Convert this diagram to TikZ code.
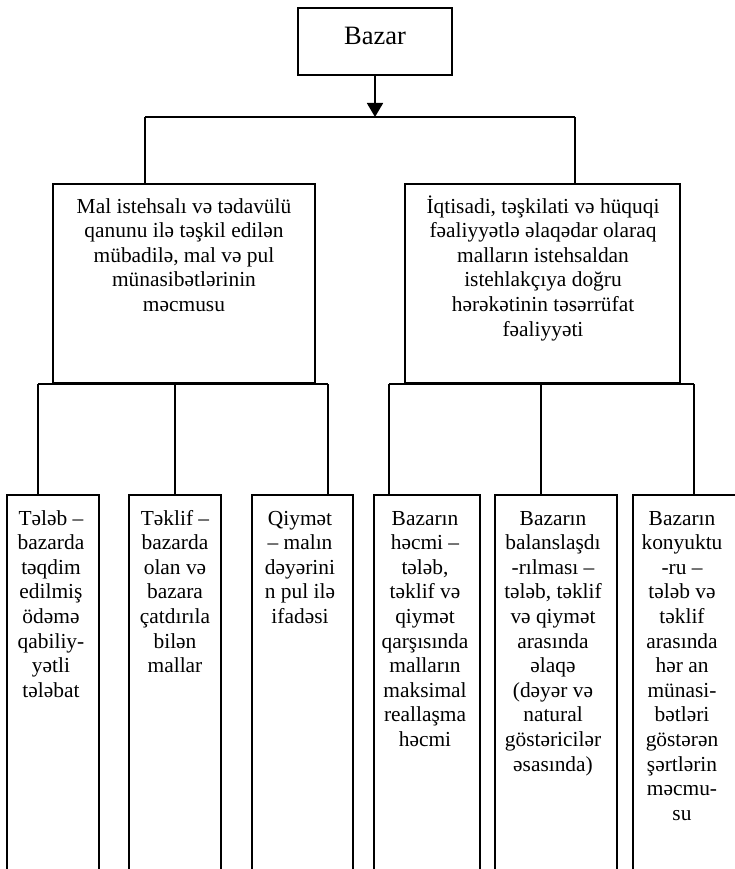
\documentclass[tikz,border=0pt]{standalone}
\usepackage{fontspec}
\setmainfont{Liberation Serif}
\usetikzlibrary{arrows.meta, positioning, calc}

\begin{document}
\begin{tikzpicture}[
  x=1pt, y=-1pt,
  every node/.style={font=\fontsize{21.4}{24.6}\selectfont},
  topbox/.style={rectangle, draw=black, line width=1.8pt, minimum width=154pt,
    minimum height=67pt, inner sep=0pt},
  mainbox/.style={rectangle, draw=black, line width=1.8pt, minimum height=199pt,
    inner sep=0pt},
  childbox/.style={rectangle, draw=black, line width=1.8pt, minimum height=405pt,
    inner sep=0pt},
  boxtext/.style={align=center, inner sep=0pt, anchor=base},
  link/.style={draw=black, line width=1.8pt},
  arrowlink/.style={link, -{Triangle[length=14pt, width=16pt]}}
]
  \useasboundingbox (0,0) rectangle (735,869);
  \clip (0,0) rectangle (735,869);

  % Top node
  \node[topbox] (bazar) at (375,41.5) {};
  \node[boxtext, font=\fontsize{26.5}{30}\selectfont] (bazartxt) at (375,45) {Bazar};

  % Two definitions (text placed by the baseline of its last line)
  \node[mainbox, minimum width=262pt] (mainL) at (184,283.5) {};
  \node[boxtext] (mainLtxt) at (184,311.4) {Mal istehsalı və tədavülü\\qanunu ilə təşkil edilən\\mübadilə, mal və pul\\münasibətlərinin\\məcmusu};
  \node[mainbox, minimum width=275pt] (mainR) at (542.5,283.5) {};
  \node[boxtext] (mainRtxt) at (543,336) {İqtisadi, təşkilati və hüquqi\\fəaliyyətlə əlaqədar olaraq\\malların istehsaldan\\istehlakçıya doğru\\hərəkətinin təsərrüfat\\fəaliyyəti};

  % Elements of the market
  \node[childbox, minimum width=92pt] (c1) at (53,697.5) {};
  \node[childbox, minimum width=92pt] (c2) at (175,697.5) {};
  \node[childbox, minimum width=101pt] (c3) at (302.5,697.5) {};
  \node[childbox, minimum width=106pt] (c4) at (427,697.5) {};
  \node[childbox, minimum width=122pt] (c5) at (556,697.5) {};
  \node[childbox, minimum width=105pt] (c6) at (685.5,697.5) {};

  \node[boxtext] (c1txt) at (51,697.2) {Tələb --\\bazarda\\təqdim\\edilmiş\\ödəmə\\qabiliy-\\yətli\\tələbat};
  \node[boxtext] (c2txt) at (175,672.6) {Təklif --\\bazarda\\olan və\\bazara\\çatdırıla\\bilən\\mallar};
  \node[boxtext] (c3txt) at (300,623.4) {Qiymət\\-- malın\\dəyərini\\n pul ilə\\ifadəsi};
  \node[boxtext] (c4txt) at (425,746.4) {Bazarın\\həcmi --\\tələb,\\təklif və\\qiymət\\qarşısında\\malların\\maksimal\\reallaşma\\həcmi};
  \node[boxtext] (c5txt) at (553,771) {Bazarın\\balanslaşdı\\-rılması --\\tələb, təklif\\və qiymət\\arasında\\əlaqə\\(dəyər və\\natural\\göstəricilər\\əsasında)};
  \node[boxtext] (c6txt) at (682,820.2) {Bazarın\\konyuktu\\-ru --\\tələb və\\təklif\\arasında\\hər an\\münasi-\\bətləri\\göstərən\\şərtlərin\\məcmu-\\su};

  % Top fork
  \coordinate (fork) at (375,117);
  \coordinate (barL) at (145,117);
  \coordinate (barR) at (575,117);
  \draw[arrowlink] (bazar.south) -- (fork);
  \draw[link] (barL) -- (barR);
  \draw[link] (barL) -- (barL |- mainL.north);
  \draw[link] (barR) -- (barR |- mainR.north);

  % Lower forks
  \coordinate (lbarA) at (38,384);
  \coordinate (lbarB) at (175,384);
  \coordinate (lbarC) at (328,384);
  \draw[link] (lbarA) -- (lbarC);
  \draw[link] (lbarA) -- (lbarA |- c1.north);
  \draw[link] (lbarB) -- (lbarB |- c2.north);
  \draw[link] (lbarC) -- (lbarC |- c3.north);

  \coordinate (rbarA) at (389,384);
  \coordinate (rbarB) at (541,384);
  \coordinate (rbarC) at (694,384);
  \draw[link] (rbarA) -- (rbarC);
  \draw[link] (rbarA) -- (rbarA |- c4.north);
  \draw[link] (rbarB) -- (rbarB |- c5.north);
  \draw[link] (rbarC) -- (rbarC |- c6.north);
\end{tikzpicture}
\end{document}
